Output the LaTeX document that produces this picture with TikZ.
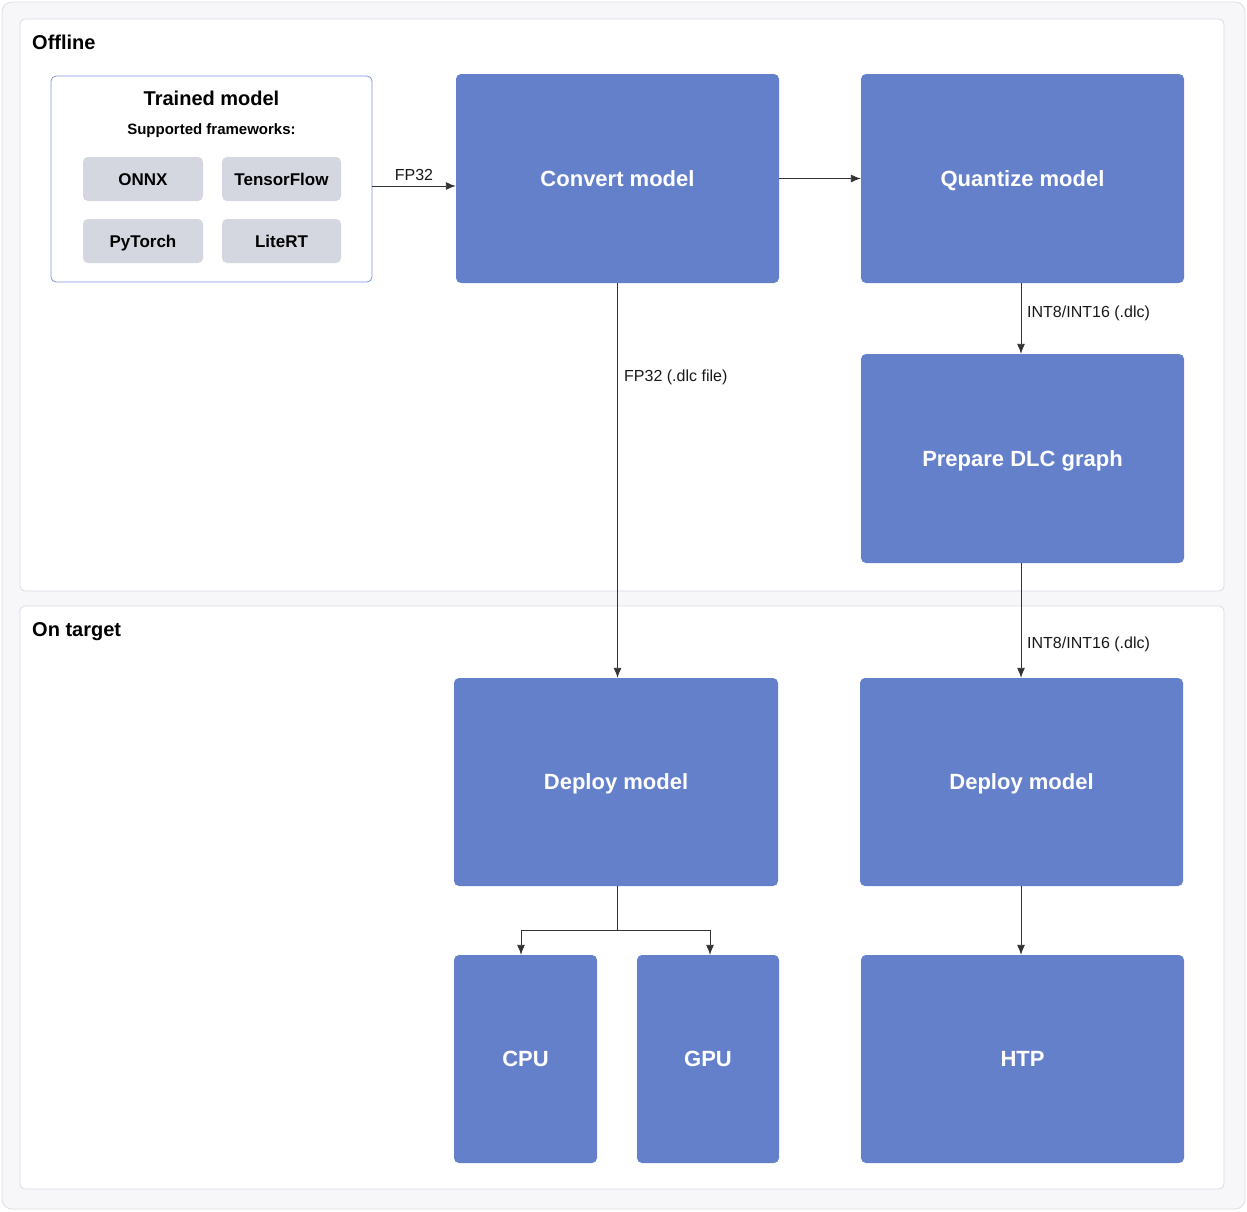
\documentclass[tikz,border=0pt]{standalone}
\usepackage{fontspec}
\setmainfont{Liberation Sans}
\usetikzlibrary{arrows.meta}
\definecolor{outerfill}{HTML}{F7F7F9}
\definecolor{outerline}{HTML}{DCDEE4}
\definecolor{panelline}{HTML}{D8DBE4}
\definecolor{bluebox}{HTML}{6580CB}
\definecolor{tmline}{HTML}{7F93D8}
\definecolor{fwfill}{HTML}{D4D7E0}
\definecolor{wire}{HTML}{333333}
\tikzset{
  panel/.style={draw=panelline, fill=white, rounded corners=5pt, line width=0.8pt},
  bluenode/.style={fill=bluebox, rounded corners=5pt, inner sep=0pt, text=white, text height=15.8pt, text depth=0pt, font=\fontsize{22}{26}\selectfont\bfseries},
  fwnode/.style={fill=fwfill, rounded corners=5pt, inner sep=0pt, minimum width=120pt, minimum height=44pt, text height=12.2pt, text depth=0pt, font=\fontsize{17}{20}\selectfont\bfseries},
  conn/.style={draw=wire, line width=0.9pt, -{Latex[length=10pt,width=8pt]}},
  elabel/.style={font=\fontsize{16}{19}\selectfont, text=black!90, inner sep=0pt},
  title/.style={font=\fontsize{20}{24}\selectfont\bfseries, inner sep=0pt, anchor=base west}
}
\begin{document}
\begin{tikzpicture}[x=1pt,y=-1pt]
\useasboundingbox (0,0) rectangle (1247,1211);
% outer
\draw[draw=outerline, fill=outerfill, rounded corners=10pt, line width=0.8pt] (2,2) rectangle (1245,1209);
% panels
\draw[panel] (20,19) rectangle (1224,591);
\draw[panel] (20,606) rectangle (1224,1189);
\node[title] (offl) at (32,49) {Offline};
\node[title] (ontg) at (32,636) {On target};

% trained model
\node[draw=tmline, fill=white, rounded corners=5pt, line width=0.8pt, minimum width=321pt, minimum height=206pt, inner sep=0pt] (tm) at (211.5,179) {};
\node[font=\fontsize{20}{24}\selectfont\bfseries, inner sep=0pt, anchor=base] (tmt) at (211.5,105) {Trained model};
\node[font=\fontsize{15}{18}\selectfont\bfseries, inner sep=0pt, anchor=base] (tms) at (211.5,134) {Supported frameworks:};
\node[fwnode] (onnx) at (143,179) {ONNX};
\node[fwnode, minimum width=119pt] (tf) at (281.5,179) {TensorFlow};
\node[fwnode] (pt) at (143,241) {PyTorch};
\node[fwnode, minimum width=119pt] (lrt) at (281.5,241) {LiteRT};

% blue nodes
\node[bluenode, minimum width=323pt, minimum height=209pt] (conv) at (617.5,178.5) {Convert model};
\node[bluenode, minimum width=323pt, minimum height=209pt] (quant) at (1022.5,178.5) {Quantize model};
\node[bluenode, minimum width=323pt, minimum height=209pt] (prep) at (1022.5,458.5) {Prepare DLC graph};
\node[bluenode, minimum width=324pt, minimum height=208pt] (dep1) at (616,782) {Deploy model};
\node[bluenode, minimum width=323pt, minimum height=208pt] (dep2) at (1021.5,782) {Deploy model};
\node[bluenode, minimum width=143pt, minimum height=208pt] (cpu) at (525.5,1059) {CPU};
\node[bluenode, minimum width=142pt, minimum height=208pt] (gpu) at (708,1059) {GPU};
\node[bluenode, minimum width=323pt, minimum height=208pt] (htp) at (1022.5,1059) {HTP};

% connectors
\draw[conn] (tm.east |- 0,186) -- (conv.west |- 0,186);
\node[elabel] (l1) at (414,175) {FP32};
\draw[conn] (conv.east) -- (quant.west);
\draw[conn] (quant.south -| 1021,0) -- (prep.north -| 1021,0);
\node[elabel, anchor=west] (l2) at (1027,313) {INT8/INT16 (.dlc)};
\draw[conn] (conv.south) -- (conv.south |- dep1.north);
\node[elabel, anchor=west] (l3) at (624,377) {FP32 (.dlc file)};
\draw[conn] (prep.south -| 1021,0) -- (dep2.north -| 1021,0);
\node[elabel, anchor=west] (l4) at (1027,644) {INT8/INT16 (.dlc)};
\coordinate (split) at (617,930);
\draw[draw=wire, line width=0.9pt] (dep1.south -| split) -- (split);
\draw[conn] (split) -- (521,930) -- (cpu.north -| 521,0);
\draw[conn] (split) -- (710,930) -- (gpu.north -| 710,0);
\draw[conn] (dep2.south -| 1021,0) -- (htp.north -| 1021,0);
\end{tikzpicture}
\end{document}
